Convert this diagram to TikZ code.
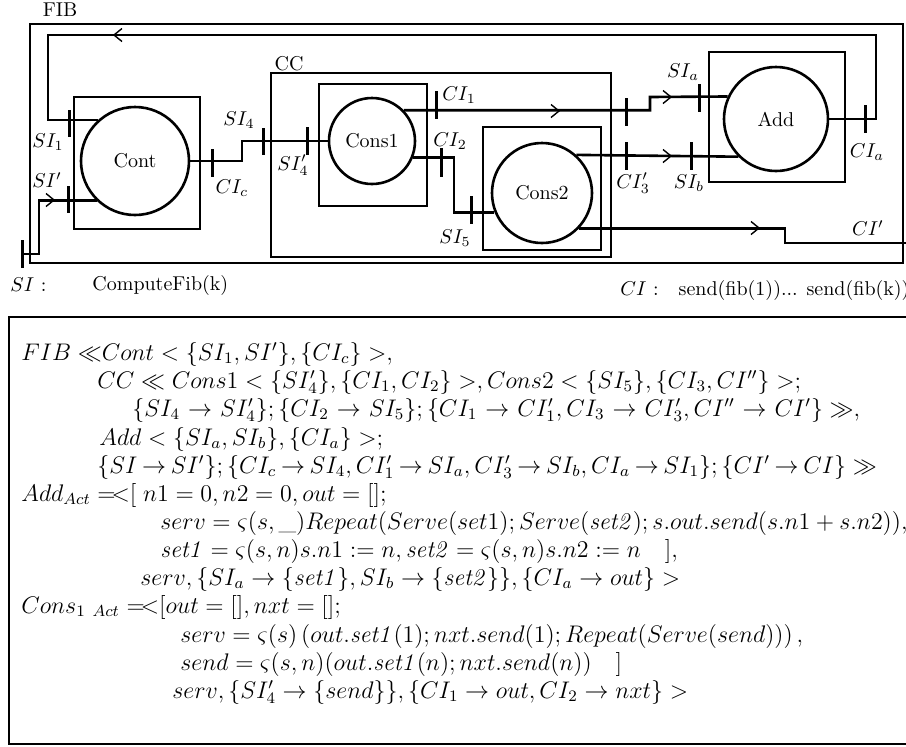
\documentclass[tikz,border=0pt]{standalone}
\usepackage{amsmath,amssymb}
\newlength\pxu
\setlength\pxu{0.5pt}
\newcommand{\tarr}{\mathrel{\mkern-1.5mu\rightarrow\mkern-1.5mu}}
\newcommand{\warr}{\mathrel{\mkern1mu\rightarrow\mkern1mu}}
\newcommand{\actop}{\;{=}\!{<}[}
\begin{document}
\begin{tikzpicture}[x=0.5pt,y=-0.5pt,
  wire/.style={line width=1.3pt},
  tick/.style={line width=1.5pt},
  chev/.style={line width=0.7pt},
  lbl/.style={inner sep=0pt,font=\fontsize{10}{12}\selectfont},
  box/.style={draw,line width=1.3pt,rectangle,inner sep=0pt},
  proc/.style={draw,line width=1.3pt,circle,inner sep=0pt,font=\fontsize{10}{12}\selectfont},
  eq/.style={anchor=base west,inner sep=0pt,font=\fontsize{12}{14}\selectfont}]
\useasboundingbox (0,0) rectangle (906,746);
% boxes
\node[box,minimum width=873\pxu,minimum height=239\pxu] (fib) at (466.5,143.5) {};
\node[box,minimum width=340\pxu,minimum height=184\pxu] (cc) at (441,165) {};
\node[box,minimum width=126\pxu,minimum height=132\pxu] (contbox) at (137,163) {};
\node[box,minimum width=108\pxu,minimum height=122\pxu] (cons1box) at (373,145) {};
\node[box,minimum width=118\pxu,minimum height=123\pxu] (cons2box) at (542,188.5) {};
\node[box,minimum width=136\pxu,minimum height=130\pxu] (addbox) at (777,117) {};
% processes
\node[proc,minimum size=108\pxu] (cont) at (135,161) {Cont};
\node[proc,minimum size=86\pxu] (cons1) at (372,141) {Cons1};
\node[proc,minimum size=100\pxu] (cons2) at (542,193) {Cons2};
\node[proc,minimum size=104\pxu] (add) at (776,119) {Add};
% labels
\node[lbl] (lfib) at (60,10) {FIB};
\node[lbl] (lcc) at (289,64) {CC};
\node[lbl] (lsi1) at (48,142) {$SI_1$};
\node[lbl] (lsip) at (47,180) {$SI'$};
\node[lbl] (lcic) at (232,188) {$CI_c$};
\node[lbl] (lsi4) at (239,120) {$SI_4$};
\node[lbl] (lsi4p) at (293,165) {$SI'_4$};
\node[lbl] (lci1) at (459,95) {$CI_1$};
\node[lbl] (lci2) at (450,141) {$CI_2$};
\node[lbl] (lsi5) at (455,238) {$SI_5$};
\node[lbl] (lsia) at (683,72) {$SI_a$};
\node[lbl] (lci3p) at (633,183) {$CI'_3$};
\node[lbl] (lsib) at (689,183) {$SI_b$};
\node[lbl] (lcia) at (867,152) {$CI_a$};
\node[lbl] (lcip) at (868,228) {$CI'$};
\node[lbl,anchor=west] (lsi) at (10,285) {$SI$ :};
\node[lbl,anchor=west] (lcomp) at (92,285) {ComputeFib(k)};
\node[lbl,anchor=west] (lci) at (620,290) {$CI$ :\quad send(fib(1))... send(fib(k))};
% connection points
\coordinate (fbR) at (876,35);
\coordinate (fbL) at (48,35);
\coordinate (si) at (22,254);
\coordinate (siB) at (39,254);
\coordinate (j3) at (242,141);
\coordinate (j4) at (650,97);
\coordinate (j5) at (454,180);
\coordinate (j7) at (785,243);
\coordinate (ciout) at (930,243);
% wires
\draw[wire] (add.east) -| (fbR) -- (fbL) |- (cont.132);
\draw[wire] (si) -- (siB) |- (cont.226);
\draw[wire] (cont.east) -| (j3) -- (cons1.west);
\draw[wire] (cons1.44) -| (j4) -- (add.155);
\draw[wire] (cons1.338) -| (j5) |- (cons2.202);
\draw[wire] (cons2.48) -- (add.225);
\draw[wire] (cons2.316) -| (j7) -- (ciout);
% ticks
\draw[tick] (69,110) -- (69,137);
\draw[tick] (68,186) -- (68,213);
\draw[tick] (22,240) -- (22,268);
\draw[tick] (212,149) -- (212,177);
\draw[tick] (263,128) -- (263,155);
\draw[tick] (307,127) -- (307,155);
\draw[tick] (436,91) -- (436,119);
\draw[tick] (441,148) -- (441,177);
\draw[tick] (471,196) -- (471,224);
\draw[tick] (626,98) -- (626,126);
\draw[tick] (699,84) -- (699,112);
\draw[tick] (626,142) -- (626,170);
\draw[tick] (691,142) -- (691,170);
\draw[tick] (865,105) -- (865,133);
% chevrons
\draw[chev] (122,28.5) -- (114,35) -- (122,41.5);
\draw[chev] (46,193.5) -- (54,200) -- (46,206.5);
\draw[chev] (551,104.5) -- (559,111) -- (551,117.5);
\draw[chev] (663,90.5) -- (671,97) -- (663,103.5);
\draw[chev] (663,149.5) -- (671,156) -- (663,162.5);
\draw[chev] (751,221.5) -- (759,228) -- (751,234.5);
% lower box
\node[box,minimum width=916\pxu,minimum height=427\pxu] (defbox) at (467,530.5) {};
\node[eq] (e1) at (21,360) {$FIB \;{\ll}Cont < \{SI_1, SI'\}, \{CI_c\} >,$};
\node[eq] (e2) at (97,388) {$CC \ll Cons1 < \{SI'_4\}, \{CI_1, CI_2\} >, Cons2 < \{SI_5\}, \{CI_3, CI''\} >;$};
\node[eq] (e3) at (132,416) {$\{SI_4 \warr SI'_4\}; \{CI_2 \warr SI_5\}; \{CI_1 \warr CI'_1, CI_3 \warr CI'_3, CI'' \warr CI'\} \gg,$};
\node[eq] (e4) at (99,445) {$Add < \{SI_a, SI_b\}, \{CI_a\} >;$};
\node[eq] (e5) at (97,473) {$\{SI \tarr SI'\}; \{CI_c \tarr SI_4, CI'_1 \tarr SI_a, CI'_3 \tarr SI_b, CI_a \tarr SI_1\}; \{CI' \tarr CI\} \gg$};
\node[eq] (e6) at (21,501) {$Add_{Act} \actop\; n1 = 0, n2 = 0, out = [];$};
\node[eq] (e7) at (160,529) {$serv = \varsigma(s, \_)Repeat(Serve(set1); Serve(\mathit{set2}); s.out.send(s.n1 + s.n2)),$};
\node[eq] (e8) at (160,557) {$\mathit{set1} = \varsigma(s,n)s.n1 := n, \mathit{set2} = \varsigma(s,n)s.n2 := n\quad],$};
\node[eq] (e9) at (140,585) {$serv, \{SI_a \rightarrow \{\mathit{set1}\}, SI_b \rightarrow \{\mathit{set2}\}\}, \{CI_a \rightarrow out\} >$};
\node[eq] (e10) at (21,613) {$Cons_{1\ Act} \actop out = [], nxt = [];$};
\node[eq] (e11) at (180,642) {$serv = \varsigma(s)\,(out.\mathit{set1}(1); nxt.send(1); Repeat(Serve(send)))\,,$};
\node[eq] (e12) at (180,670) {$send = \varsigma(s,n)(out.\mathit{set1}(n); nxt.send(n))\quad]$};
\node[eq] (e13) at (172,698) {$serv, \{SI'_4 \rightarrow \{send\}\}, \{CI_1 \rightarrow out, CI_2 \rightarrow nxt\} >$};
\end{tikzpicture}
\end{document}
